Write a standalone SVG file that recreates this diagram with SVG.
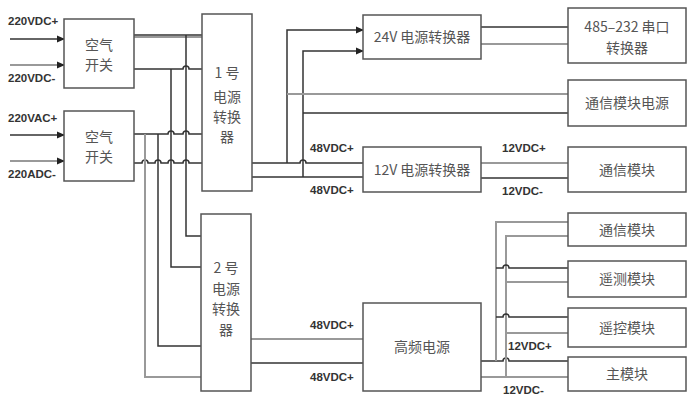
<svg xmlns="http://www.w3.org/2000/svg" width="696" height="408" viewBox="0 0 696 408">
<style>
.box{fill:#fff;stroke:#555;stroke-width:1.5}
.t{font-family:"Noto Sans CJK SC","Liberation Serif",serif;font-size:14px;fill:#555;text-anchor:middle}
.l{font-family:"Liberation Sans",Arial,sans-serif;font-size:11.5px;font-weight:bold;fill:#333}
.k{fill:none;stroke:#333;stroke-width:1.5}
.g{fill:none;stroke:#999;stroke-width:2}
</style>
<defs>
<marker id="ar" markerWidth="8" markerHeight="8" refX="7" refY="4" orient="auto" markerUnits="userSpaceOnUse">
<path d="M0,0.5 L8,4 L0,7.5 Z" fill="#222"/>
</marker>
</defs>
<rect width="696" height="408" fill="#fff"/>
<g id="connectors">
<path class="k" d="M10,39 H64" marker-end="url(#ar)"/>
<path class="g" d="M10,65 H64" marker-end="url(#ar)"/>
<path class="k" d="M10,135 H64" marker-end="url(#ar)"/>
<path class="g" d="M10,161 H64" marker-end="url(#ar)"/>
<path class="k" d="M134,35 H202"/>
<path class="g" d="M134,37 H202"/>
<path class="k" d="M134,69 H183 a3,3 0 0 1 6,0 H202"/>
<path class="k" d="M134,134 H168 a3,3 0 0 1 6,0 H183 a3,3 0 0 1 6,0 H202"/>
<path class="k" d="M134,163 H142 a3,3 0 0 1 6,0 H155 a3,3 0 0 1 6,0 H168 a3,3 0 0 1 6,0 H183 a3,3 0 0 1 6,0 H202"/>
<path class="k" d="M186,35 V236 H201"/>
<path class="k" d="M171,69 V267 H201"/>
<path class="k" d="M158,134 V346 H201"/>
<path class="g" d="M145,134 V377 H201"/>
<path class="k" d="M252,163 H300 a3,3 0 0 1 6,0 H363"/>
<path class="k" d="M252,177 H363"/>
<path class="k" d="M287,163 V30 H363" marker-end="url(#ar)"/>
<path class="k" d="M303,177 V51 H363" marker-end="url(#ar)"/>
<path class="g" d="M287,94 H568"/>
<path class="k" d="M303,113 H568"/>
<path class="k" d="M481,27 H568"/>
<path class="g" d="M481,44 H568"/>
<path class="g" d="M481,163 H568"/>
<path class="k" d="M481,178 H568"/>
<path class="g" d="M251,339 H363"/>
<path class="k" d="M251,363 H363"/>
<path class="k" d="M481,361 H503 a3,3 0 0 1 6,0 H568"/>
<path class="g" d="M481,377 H568"/>
<path class="g" d="M496,361 V222 H568"/>
<path class="g" d="M506,377 V236 H568"/>
<path class="k" d="M496,268 H503 a3,3 0 0 1 6,0 H568"/>
<path class="g" d="M506,282 H568"/>
<path class="k" d="M496,317 H503 a3,3 0 0 1 6,0 H568"/>
<path class="g" d="M506,333 H568"/>
</g>
<g id="labels">
<text class="l" x="8" y="25">220VDC+</text>
<text class="l" x="8" y="82">220VDC-</text>
<text class="l" x="8" y="122">220VAC+</text>
<text class="l" x="8" y="178">220ADC-</text>
<text class="l" x="310" y="152">48VDC+</text>
<text class="l" x="310" y="194">48VDC+</text>
<text class="l" x="502" y="152">12VDC+</text>
<text class="l" x="502" y="195">12VDC-</text>
<text class="l" x="310" y="329">48VDC+</text>
<text class="l" x="310" y="381">48VDC+</text>
<text class="l" x="508" y="350">12VDC+</text>
<text class="l" x="503" y="394">12VDC-</text>
</g>
<g id="switch1"><rect class="box" x="64" y="19" width="70" height="69"/><text class="t" x="99" y="50">空气</text><text class="t" x="99" y="70">开关</text></g>
<g id="switch2"><rect class="box" x="64" y="111" width="70" height="70"/><text class="t" x="99" y="142">空气</text><text class="t" x="99" y="162">开关</text></g>
<g id="conv1"><rect class="box" x="202" y="14" width="50" height="177"/><text class="t" x="227" y="78">1 号</text><text class="t" x="227" y="102">电源</text><text class="t" x="227" y="122">转换</text><text class="t" x="227" y="142">器</text></g>
<g id="conv2"><rect class="box" x="201" y="214" width="50" height="177"/><text class="t" x="226" y="273">2 号</text><text class="t" x="226" y="294">电源</text><text class="t" x="226" y="314">转换</text><text class="t" x="226" y="335">器</text></g>
<g id="conv24"><rect class="box" x="363" y="15" width="118" height="44"/><text class="t" x="422" y="42">24V 电源转换器</text></g>
<g id="conv12"><rect class="box" x="363" y="147" width="118" height="45"/><text class="t" x="422" y="175">12V 电源转换器</text></g>
<g id="hf"><rect class="box" x="363" y="303" width="118" height="88"/><text class="t" x="422" y="352">高频电源</text></g>
<g id="rs485"><rect class="box" x="568" y="8" width="118" height="55"/><text class="t" x="627" y="32">485–232 串口</text><text class="t" x="627" y="53">转换器</text></g>
<g id="commpwr"><rect class="box" x="568" y="80" width="118" height="46"/><text class="t" x="627" y="108">通信模块电源</text></g>
<g id="comm1"><rect class="box" x="568" y="147" width="118" height="45"/><text class="t" x="627" y="175">通信模块</text></g>
<g id="comm2"><rect class="box" x="568" y="213" width="118" height="33"/><text class="t" x="627" y="235">通信模块</text></g>
<g id="telemetry"><rect class="box" x="568" y="261" width="118" height="36"/><text class="t" x="627" y="284">遥测模块</text></g>
<g id="telecontrol"><rect class="box" x="568" y="308" width="118" height="39"/><text class="t" x="627" y="333">遥控模块</text></g>
<g id="main"><rect class="box" x="568" y="357" width="118" height="34"/><text class="t" x="627" y="379">主模块</text></g>
</svg>
